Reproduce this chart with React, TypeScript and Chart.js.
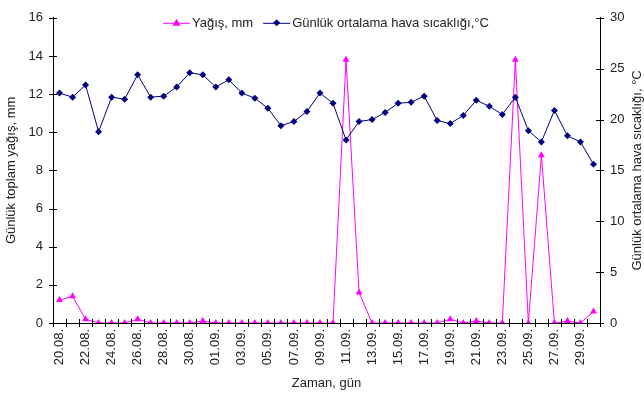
import React, { useEffect, useRef } from "react";
import { Chart, registerables } from "chart.js";

Chart.register(...registerables);

const dates = [
  "20.08.", "21.08.", "22.08.", "23.08.", "24.08.", "25.08.", "26.08.", "27.08.", "28.08.", "29.08.",
  "30.08.", "31.08.", "01.09.", "02.09.", "03.09.", "04.09.", "05.09.", "06.09.", "07.09.", "08.09.",
  "09.09.", "10.09.", "11.09.", "12.09.", "13.09.", "14.09.", "15.09.", "16.09.", "17.09.", "18.09.",
  "19.09.", "20.09.", "21.09.", "22.09.", "23.09.", "24.09.", "25.09.", "26.09.", "27.09.", "28.09.",
  "29.09.", "30.09.",
];

const precipitation = [
  1.2, 1.4, 0.2, 0, 0, 0, 0.2, 0, 0, 0,
  0, 0.1, 0, 0, 0, 0, 0, 0, 0, 0,
  0, 0, 13.8, 1.6, 0, 0, 0, 0, 0, 0,
  0.2, 0, 0.1, 0, 0, 13.8, 0, 8.8, 0, 0.1,
  0, 0.6,
];

const temperature = [
  22.6, 22.2, 23.4, 18.8, 22.2, 22.0, 24.4, 22.2, 22.3, 23.2,
  24.6, 24.4, 23.2, 23.9, 22.6, 22.1, 21.1, 19.4, 19.8, 20.8,
  22.6, 21.6, 18.0, 19.8, 20.0, 20.7, 21.6, 21.7, 22.3, 19.9,
  19.6, 20.4, 21.9, 21.3, 20.5, 22.2, 18.9, 17.8, 20.9, 18.4,
  17.8, 15.6,
];

const precipLabel = "Yağış, mm";
const tempLabel = "Günlük ortalama hava sıcaklığı,°C";
const leftTitle = "Günlük toplam yağış, mm";
const rightTitle = "Günlük ortalama hava sıcaklığı, °C";
const xTitle = "Zaman, gün";

const PRECIP_COLOR = "#FF00FF";
const TEMP_COLOR = "#000080";
const FONT = "'Liberation Sans', Arial, sans-serif";
const TEXT = "#222222";
const FS = 13;

const crossTicks = {
  id: "crossTicks",
  afterDraw(chart: any) {
    const ctx = chart.ctx;
    ctx.save();
    ctx.strokeStyle = "#000";
    ctx.lineWidth = 1;
    const x = chart.scales.x;
    const n = x.ticks.length;
    const step = x.width / n;
    ctx.beginPath();
    for (let i = 0; i <= n; i++) {
      const px = Math.round(x.left + i * step) + 0.5;
      ctx.moveTo(px, x.top - 4);
      ctx.lineTo(px, x.top + 4);
    }
    const y = chart.scales.y;
    y.ticks.forEach((t: any) => {
      const py = Math.round(y.getPixelForValue(t.value)) + 0.5;
      ctx.moveTo(y.right - 4, py);
      ctx.lineTo(y.right + 4, py);
    });
    const y1 = chart.scales.y1;
    y1.ticks.forEach((t: any) => {
      const py = Math.round(y1.getPixelForValue(t.value)) + 0.5;
      ctx.moveTo(y1.left - 4, py);
      ctx.lineTo(y1.left + 4, py);
    });
    ctx.stroke();

    // right axis title, reading bottom-to-top
    ctx.fillStyle = TEXT;
    ctx.font = `${FS}px ${FONT}`;
    ctx.textAlign = "center";
    ctx.textBaseline = "middle";
    const cy = (chart.chartArea.top + chart.chartArea.bottom) / 2;
    ctx.translate(y1.right - 7, cy);
    ctx.rotate(-Math.PI / 2);
    ctx.fillText(rightTitle, 0, 0);
    ctx.restore();

    // legend
    ctx.save();
    ctx.font = `${FS}px ${FONT}`;
    ctx.textBaseline = "middle";
    ctx.textAlign = "left";
    const ly = chart.chartArea.top + 5;
    let lx = 163;
    const drawItem = (color: string, style: string, label: string) => {
      ctx.strokeStyle = color;
      ctx.lineWidth = 1;
      ctx.beginPath();
      ctx.moveTo(lx, ly + 0.5);
      ctx.lineTo(lx + 27, ly + 0.5);
      ctx.stroke();
      ctx.fillStyle = color;
      const cx = lx + 13.5;
      ctx.beginPath();
      if (style === "triangle") {
        ctx.moveTo(cx, ly - 4);
        ctx.lineTo(cx + 4, ly + 3);
        ctx.lineTo(cx - 4, ly + 3);
      } else {
        ctx.moveTo(cx, ly - 3.5);
        ctx.lineTo(cx + 3.5, ly);
        ctx.lineTo(cx, ly + 3.5);
        ctx.lineTo(cx - 3.5, ly);
      }
      ctx.closePath();
      ctx.fill();
      ctx.fillStyle = TEXT;
      ctx.fillText(label, lx + 29, ly + 1);
      lx += 29 + ctx.measureText(label).width + 10;
    };
    drawItem(PRECIP_COLOR, "triangle", precipLabel);
    drawItem(TEMP_COLOR, "diamond", tempLabel);
    ctx.restore();
  },
};

export default function App() {
  const ref = useRef<HTMLCanvasElement | null>(null);
  useEffect(() => {
    document.body.style.margin = "0";
    const canvas = ref.current!;
    const chart = new Chart(canvas, {
      type: "line",
      data: {
        labels: dates,
        datasets: [
          {
            label: precipLabel,
            data: precipitation,
            yAxisID: "y",
            borderColor: PRECIP_COLOR,
            backgroundColor: PRECIP_COLOR,
            borderWidth: 1,
            pointStyle: "triangle",
            pointRadius: 4,
            pointBorderWidth: 0,
            tension: 0,
            order: 2,
          },
          {
            label: tempLabel,
            data: temperature,
            yAxisID: "y1",
            borderColor: TEMP_COLOR,
            backgroundColor: TEMP_COLOR,
            borderWidth: 1,
            pointStyle: "rectRot",
            pointRadius: 3.5,
            pointBorderWidth: 0,
            tension: 0,
            order: 1,
          },
        ],
      },
      options: {
        responsive: false,
        animation: false,
        layout: { padding: { top: 12, left: 0, right: 0, bottom: 0 } },
        plugins: { legend: { display: false }, tooltip: { enabled: false } },
        scales: {
          x: {
            type: "category",
            offset: true,
            grid: { display: true, drawOnChartArea: false, drawTicks: false, offset: true },
            border: { display: true, color: "#000" },
            ticks: {
              autoSkip: false,
              maxRotation: 90,
              minRotation: 90,
              padding: 6,
              color: TEXT,
              font: { family: FONT, size: FS },
              callback: (_v: any, i: number) => (i % 2 === 0 ? dates[i] : ""),
            },
            title: { display: true, text: xTitle, color: TEXT, font: { family: FONT, size: FS }, padding: 3 },
            afterFit: (s: any) => {
              s.height = 71;
            },
          },
          y: {
            position: "left",
            min: 0,
            max: 16,
            grid: { drawOnChartArea: false, drawTicks: false },
            border: { display: true, color: "#000" },
            ticks: { stepSize: 2, padding: 10, color: TEXT, font: { family: FONT, size: FS } },
            title: { display: true, text: leftTitle, color: TEXT, font: { family: FONT, size: FS }, padding: 4 },
            afterFit: (s: any) => {
              s.width = 53;
            },
          },
          y1: {
            position: "right",
            min: 0,
            max: 30,
            grid: { drawOnChartArea: false, drawTicks: false },
            border: { display: true, color: "#000" },
            ticks: { stepSize: 5, padding: 10, color: TEXT, font: { family: FONT, size: FS } },
            afterFit: (s: any) => {
              s.width = 44;
            },
          },
        },
      },
      plugins: [crossTicks],
    });
    return () => chart.destroy();
  }, []);
  return (
    <div style={{ width: 644, height: 394, background: "#fff" }}>
      <canvas ref={ref} width={644} height={394} />
    </div>
  );
}
